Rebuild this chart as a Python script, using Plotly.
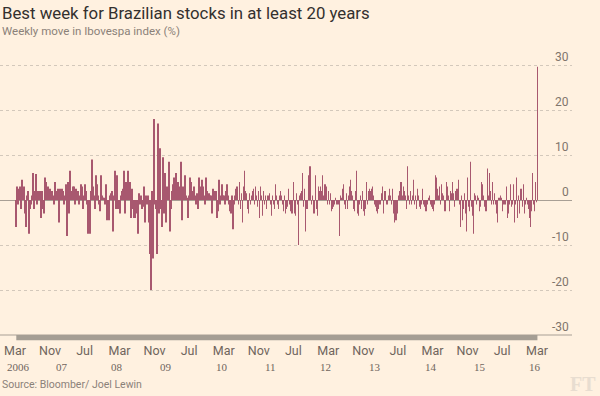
import plotly.graph_objects as go
import pandas as pd

# Weekly move in Ibovespa index (%), Mar 2006 -> Mar 2016
moves_2006_07 = [-6, 3, -1, 2.5, 3, -2, 4.5, 2, 3, -3, -6, 1, 2, -7.5, -2, -1, 1, 6, -2, 2,
                 5.8, -1, 2, 1.5, 2, -4, 2, -2, -3, 5, 4, 2, 3, 1, 2.5, 1, 2, 1, -1, 4,
                 1, 2, 2.5, -5, 2.5, 1.5, 2.5, 2, -1, 1, 3.5, -8, 4, -3, 6.5, 1, 2, 3, 3, -1,
                 2.5, 2, 2, -1, 1]
moves_2007_08 = [3.5, 3, -2, 1, 3.5, 2, -1, -7.5, -1, -7.5, 2, 9, 3, 1, -2, 5.5, 3.5, 1, -1, -2.5,
                 5.5, 1, 0.5, 0.5, -1, 3.5, -4.5, -1, -4.5, 1, 1.5, 2, -7, 1, 6.5, -2, 5.5, -2, -1.5, -3,
                 1, 2, 2.5, 6.5, -3, 4, 1, 6.5, 1, 4, -4, 2.5, -2, -4, -4, -3, -1, -7.5, 1.5, -1,
                 1, -2, -1.5, 3, -5, 1, -1, 1]
moves_2008_10 = [-5, -12, -20, 2, -13, 18, -1, -2, -12, 17, -3, 11.5, -2, -6, 9.5, -3, 6, -5, 3, 2,
                 8.5, -7, -2, 2, 3.5, 5, 3, 6, 2, 4, 1, 3, 8.5, -4.5, 3, 2, 5.5, 1, 0.5, -4,
                 1, 5, 4, 2, 1, 3, 1, -1, 1.5, -2, 5, 3, 1, 4.5, 3, 1, -1, 5, 2, 1,
                 1.5, 1, 1, -3, 2.5, 1, 2, 2]
moves_2010_11 = [-4, -2.5, 4.5, -1, 1, 3.5, 1, 1, -1, 2, 3.5, 1, -1, -2.5, -3, 1, -6.5, -1, 1, 2.5,
                 3, -1, 4, -2, 1.5, -5, 3, 6.5, 2, 1.5, -2, -3, 1.5, -1, 1, 2, 2.5, -1, 3, 1,
                 -1.5, 2, -4, 3, 1, -3.5, 2, -1, 1, -2, 1, 1, 1.5, -1, -3.5, 1, -1, -2, 3.5, 1,
                 -1, -2, 1, 2, 1, -1, -2.5, 1]
moves_2011_13 = [-3, -2, -1.5, 2.5, -1, -2.5, -3, -3, 4, -3, -3.5, 1.5, -1, -10, 1, 1.5, 2, 6, -1.5, 2.5,
                 -7, -2, -2, 5.5, 7.5, 7.5, -1, 1, -3, -3, 5.5, -2, -3.5, 3, 2, 3, 2, 5.5, 1, 3.5,
                 3.5, 3, -1, 2, -1, 1.5, -2.5, -2, -1.5, -1, 0.5, -1, -1, -1, -8, 1, 0.5, 2.5, 3.5, -1,
                 -2, 1.5, -2, 1, 3, 4.5, 2, 1]
moves_2013_14 = [-2, -2.5, 2, 6.5, -3, -3.5, -1, 1, -2, 2, -2.5, -3.5, -2, 4, -1, 2, 2.5, 2, 2.5, 3,
                 1, -1, -1.5, -2.5, -3, -2, -1, -1, 1.5, 3, -3, 2, 2, -1, -1, 1, 2.5, 1, -1, 2.5,
                 -3, -5, -4.5, -4.5, -3, 1, 2, 4, 4, 1, 3, 2, 1, -2, 7.5, 1, -1, 2, -1, 1,
                 4.5, -1, 1, -2, 2.5, 1, -1.5, -2]
moves_2014_15 = [-1, 2.5, -1, -1.5, -2.5, -2.5, -1, 0.5, 1, -1, -1.5, -2, -2.5, -1, 5.5, 5, 2.5, 1, 3, -1,
                 3.5, 1.5, 1, -2.5, -2.5, 4, 3, 1, -2.5, 2, 1.5, 4, 1.5, -1.5, 2, 2.5, 2.5, 4.5, -1, -6,
                 1, -4.5, -2, 1.5, -3, -7, 5, -1.5, -2.5, 8.5, -1.5, -3.5, -7.5, 1.5, 1, -1, 1, 0.5, -2.5, -1.5,
                 4, 3.5, 1, -1.5, -2.5, -2.5, 7, 1]
moves_2015_16 = [6, 2, -1, 4, -1, 1.5, -1, -3, -5, 0.5, 0.5, 1, 0.5, -2.5, -1, -1, -1, 3, -4, -3,
                 -1, 3.5, -1.5, -1, 3.5, -5, -1, 5, -4, 1, -3, 2.5, 2.5, -1.5, 3.5, -3, -1, 0.5, -1, -2,
                 -4, -6, -2.5, 6, -1, -2.5, 4, -0.5, 29.6]

weekly_moves = (moves_2006_07 + moves_2007_08 + moves_2008_10 + moves_2010_11 +
                moves_2011_13 + moves_2013_14 + moves_2014_15 + moves_2015_16)
week_ending = pd.date_range(end="2016-03-04", periods=len(weekly_moves), freq="W-FRI")

tick_dates = ["2006-03-01", "2006-11-01", "2007-07-01", "2008-03-01", "2008-11-01", "2009-07-01",
              "2010-03-01", "2010-11-01", "2011-07-01", "2012-03-01", "2012-11-01", "2013-07-01",
              "2014-03-01", "2014-11-01", "2015-07-01", "2016-03-01"]
tick_months = ["Mar", "Nov", "Jul", "Mar", "Nov", "Jul", "Mar", "Nov", "Jul", "Mar", "Nov", "Jul",
               "Mar", "Nov", "Jul", "Mar"]
tick_years = ["2006", "07", "", "08", "09", "", "10", "11", "", "12", "13", "", "14", "15", "", "16"]
y_ticks = [30, 20, 10, 0, -10, -20, -30]

BG = "#fff1e0"
BAR = "#a8586f"
GRID = "#d3c8bb"
AXIS = "#a89f95"
LABEL = "#7f756c"
SANS = "Roboto, Lato, 'Open Sans', sans-serif"
SERIF = "'Liberation Serif', 'DejaVu Serif', serif"

fig = go.Figure()
fig.add_trace(go.Bar(x=week_ending, y=weekly_moves, marker=dict(color=BAR, line=dict(width=0)),
                     hoverinfo="x+y"))

# plot area: x 0..572 px, y 60..341 px (4.5 px per point)
fig.update_layout(
    width=600, height=396,
    margin=dict(l=0, r=28, t=60, b=55),
    paper_bgcolor=BG, plot_bgcolor=BG,
    bargap=0.3, showlegend=False,
    xaxis=dict(range=["2005-11-16", "2016-11-01"], showgrid=False, zeroline=False, showline=False,
               ticks="", tickmode="array", tickvals=tick_dates, ticktext=tick_months,
               tickfont=dict(family=SANS, size=12.5, color="#6f655d"), tickangle=0),
    yaxis=dict(range=[-31.333, 31.111], tickmode="array", tickvals=[30, 20, 10, -10, -20],
               showticklabels=False, showgrid=True, gridcolor=GRID, griddash="dot", gridwidth=1,
               zeroline=True, zerolinecolor=AXIS, zerolinewidth=1, showline=False, ticks=""),
)

# solid bottom line at -30 and thick band spanning the data period
fig.add_shape(type="line", xref="paper", yref="y", x0=0, x1=1, y0=-30, y1=-30,
              line=dict(color=AXIS, width=1), layer="above")
fig.add_shape(type="rect", xref="x", yref="y", x0=week_ending[0], x1=week_ending[-1],
              y0=-30, y1=-31.15, fillcolor="#a59e94", line=dict(width=0), layer="above")

annotations = []
for v in y_ticks:
    annotations.append(dict(xref="paper", yref="y", x=1, y=v, yshift=8, xshift=-1,
                            text=str(v), showarrow=False, xanchor="right", yanchor="middle",
                            font=dict(family=SANS, size=12, color=LABEL)))
for d, m, yr in zip(tick_dates, tick_months, tick_years):
    if yr:
        annotations.append(dict(xref="x", yref="paper", x=d, y=(341 - 367) / 281, text=yr,
                                showarrow=False, xanchor="left", yanchor="middle",
                                xshift=-10 if m == "Mar" else 4,
                                font=dict(family=SERIF, size=11, color="#6f655d")))
annotations += [
    dict(xref="paper", yref="paper", x=0, y=(341 - 13) / 281, xanchor="left", yanchor="middle",
         text="Best week for Brazilian stocks in at least 20 years", showarrow=False,
         font=dict(family=SANS, size=16.8, color="#33302e")),
    dict(xref="paper", yref="paper", x=0, y=(341 - 31) / 281, xanchor="left", yanchor="middle",
         text="Weekly move in Ibovespa index (%)", showarrow=False,
         font=dict(family=SANS, size=11.5, color="#8b8179")),
    dict(xref="paper", yref="paper", x=0, y=(341 - 384) / 281, xanchor="left", yanchor="middle",
         text="Source: Bloomber/ Joel Lewin", showarrow=False,
         font=dict(family=SANS, size=10.5, color="#8b8179")),
    dict(xref="paper", yref="paper", x=598 / 572, y=(341 - 384) / 281, xanchor="right", yanchor="middle",
         text="<b>FT</b>", showarrow=False,
         font=dict(family=SERIF, size=20, color="#e8ddd0")),
]
fig.update_layout(annotations=annotations)

fig.write_html("out.html", config={"displayModeBar": False},
               post_script="document.body.style.margin='0';")
